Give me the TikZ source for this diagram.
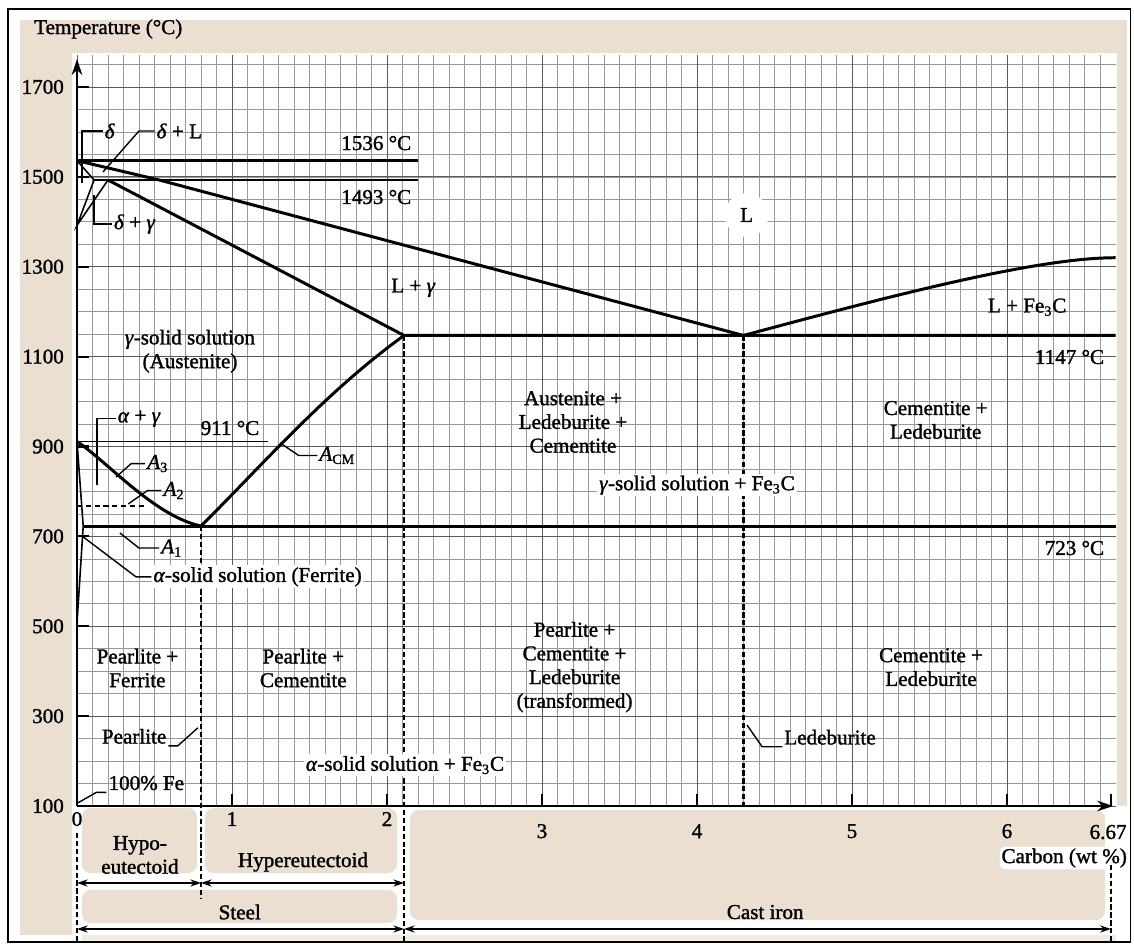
\documentclass[tikz,border=0pt]{standalone}
\usepackage{fontspec}
\setmainfont{Liberation Serif}[FakeBold=1.4]
\usepackage{tikz}
\usetikzlibrary{arrows.meta,calc,positioning}
\definecolor{sable}{RGB}{234,223,208}

\begin{document}
\begin{tikzpicture}[
		x=3.1cm, y=0.8988cm,
		font=\fontsize{12}{13.5}\selectfont,
		phase/.style={line width=1.7pt, line join=round},
		fine/.style={line width=0.9pt},
		leader/.style={line width=0.8pt},
		tirets/.style={line width=1.3pt, dash pattern=on 3pt off 1.5pt},
		cote/.style={line width=1.3pt, {Stealth[length=6pt,width=4pt]}-{Stealth[length=6pt,width=4pt]}},
		axe/.style={line width=1.4pt, -{Stealth[length=9pt,width=6pt]}},
		lbl/.style={inner sep=1pt, align=center},
		masque/.style={lbl, fill=white},
		boite/.style={fill=sable, rounded corners=5pt},
		]
		\useasboundingbox (-0.4968,-2.182) rectangle (6.8194,18.935);
		
		% Le fond
		\fill[white] (-0.4968,-2.182) rectangle (6.8194,18.935);
		\fill[sable] (-0.368,17.756) rectangle (6.774,18.49);
		\fill[sable] (-0.368,-1.87) rectangle (-0.032,18.49);
		\fill[sable] (6.71,1) rectangle (6.774,18.49);
		\fill[boite] (0.032,0.955) rectangle (0.774,-0.491);
		\fill[boite] (0.826,0.955) rectangle (2.065,-0.491);
		\fill[boite] (0.032,-0.869) rectangle (2.065,-1.603);
		\fill[boite] (2.148,0.911) rectangle (6.632,-1.537);
		\fill[sable!60] (0.032,-1.88) rectangle (6.70,-2.0);
		\draw[line width=1pt] (-0.445,-2.026) rectangle (6.797,18.735);
		
		% La grille
		\draw[black!40, line width=0.35pt] (0,1) grid[xstep=0.1, ystep=0.5] (6.70,17.71);
		\draw[black!65, line width=0.5pt, shift={(0,1)}] (0,0) grid[xstep=1, ystep=2] (6.70,16.71);
		
		% Les axes
		\coordinate (O) at (0,1);
		\coordinate (ytop) at (0,17.62);
		\coordinate (xend) at (6.684,1);
		\draw[axe] (O) -- (ytop);
		\draw[axe] (O) -- (xend);
		\draw[line width=1.1pt] (6.67,1) -- (6.67,1.27);
		\foreach \t/\lab in {1/100,3/300,5/500,7/700,9/900,11/1100,13/1300,15/1500,17/1700} {
			\draw[line width=1.2pt] (0,\t) -- (0.075,\t);
			\node[anchor=east] (ty\lab) at (-0.045,\t) {\lab};
		}
		\foreach \c in {1,...,6}
			\draw[line width=1.1pt] (\c,1) -- (\c,1.27);
		\foreach \c/\h in {0/0.71,1/0.71,2/0.71,3/0.44,4/0.44,5/0.44,6/0.44}
			\node (tx\c) at (\c,\h) {\c};
		\node[anchor=east, inner sep=1pt] (tx667) at (6.785,0.42) {6.67};
		\node[anchor=west] (ttemp) at (-0.316,18.29) {Temperature (°C)};
		\node[lbl, fill=white, rounded corners=3pt, anchor=east] (tcarb) at (6.787,-0.157) {Carbon (wt \%)};
		
		% Les points du diagramme
		\coordinate (Fe1536) at (0,15.36);
		\coordinate (d1493) at (0.11,14.93);
		\coordinate (g1493) at (0.2,14.93);
		\coordinate (p1493) at (0.53,14.93);
		\coordinate (Fe1392) at (0,13.92);
		\coordinate (l1536) at (2.2,15.36);
		\coordinate (l1493) at (2.2,14.93);
		\coordinate (E) at (2.11,11.47);
		\coordinate (C) at (4.3,11.47);
		\coordinate (r1147) at (6.70,11.47);
		\coordinate (Fe3C) at (6.70,13.2);
		\coordinate (Fe911) at (0,9.11);
		\coordinate (l911) at (1.23,9.11);
		\coordinate (S) at (0.8,7.23);
		\coordinate (P) at (0.04,7.23);
		\coordinate (r723) at (6.70,7.23);
		\coordinate (Fe500) at (0,5.07);
		\coordinate (Fe768) at (0,7.68);
		\coordinate (A2g) at (0.43,7.68);
		
		% Les lignes de phase
		\draw[phase] (Fe1536) -- (l1536);
		\draw[fine] (d1493) -- (l1493);
		\draw[phase] (Fe1536) -- (p1493) -- (C);
		\draw[fine] (Fe1536) -- (d1493) -- (Fe1392) -- (g1493);
		\draw[phase] (g1493) -- (E) -- (r1147);
		\draw[phase] (C) .. controls (5.3,12.4) and (6.2,13.2) .. (Fe3C);
		\draw[fine] (Fe911) -- (l911);
		\draw[phase] (Fe911) .. controls (0.2,8.65) and (0.5,7.45) .. (S);
		\draw[phase] (S) .. controls (1.2,8.6) and (1.6,10.2) .. (E);
		\draw[phase] (P) -- (r723);
		\draw[fine] (Fe911) -- (P) -- (Fe500);
		\draw[fine, dash pattern=on 3pt off 2pt] (Fe768) -- (A2g);
		
		% Les verticales en tirets
		\coordinate (b0h) at (0,0.4);
		\coordinate (b0) at (0,-2.0);
		\coordinate (bS) at (0.8,-1.05);
		\coordinate (bE) at (2.11,-2.0);
		\coordinate (bC) at (4.3,1);
		\coordinate (b667h) at (6.67,-0.31);
		\coordinate (b667) at (6.67,-2.0);
		\draw[tirets] (b0h) -- (b0);
		\draw[tirets] (S) -- (bS);
		\draw[tirets] (E) -- (bE);
		\draw[tirets] (C) -- (bC);
		\draw[tirets] (b667h) -- (b667);
		
		% Les cotes
		\draw[cote] (0,-0.713) -- (0.8,-0.713);
		\draw[cote] (0.8,-0.713) -- (2.11,-0.713);
		\draw[cote] (0,-1.737) -- (2.11,-1.737);
		\draw[cote] (2.11,-1.737) -- (6.67,-1.737);
		\node[lbl] (hypo) at (0.406,-0.09) {Hypo-\\eutectoid};
		\node[lbl] (hyper) at (1.458,-0.246) {Hypereutectoid};
		\node[lbl] (steel) at (1.05,-1.36) {Steel};
		\node[lbl] (cast) at (4.44,-1.36) {Cast iron};
		
		% Les etiquettes des phases
		\node[fill=white, circle, inner sep=5pt] (liq) at (4.32,14.15) {L};
		\node[lbl, anchor=east] (t1536) at (2.17,15.75) {1536 °C};
		\node[lbl, anchor=east] (t1493) at (2.17,14.55) {1493 °C};
		\node[lbl] (lg) at (2.17,12.53) {L + \textit{γ}};
		\node[lbl] (lfe) at (6.13,12.1) {L + Fe\textsubscript{3}C};
		\node[lbl, anchor=east] (t1147) at (6.64,10.99) {1147 °C};
		\node[lbl, anchor=east] (t723) at (6.64,6.74) {723 °C};
		\node[lbl] (aus) at (0.729,11.12) {\textit{γ}-solid solution\\(Austenite)};
		\node[lbl] (t911) at (0.987,9.41) {911 °C};
		\node[lbl] (alc) at (3.2,9.545) {Austenite +\\Ledeburite +\\Cementite};
		\node[lbl] (clh) at (5.54,9.59) {Cementite +\\Ledeburite};
		\node[masque] (gfe) at (4.0,8.14) {\textit{γ}-solid solution + Fe\textsubscript{3}C};
		\node[lbl] (pf) at (0.39,4.07) {Pearlite +\\Ferrite};
		\node[lbl] (pc) at (1.46,4.07) {Pearlite +\\Cementite};
		\node[lbl] (pcl) at (3.21,4.09) {Pearlite +\\Cementite +\\Ledeburite\\(transformed)};
		\node[lbl] (clb) at (5.51,4.09) {Cementite +\\Ledeburite};
		\node[masque] (afe) at (2.116,1.91) {\textit{α}-solid solution + Fe\textsubscript{3}C};
		
		% Les etiquettes avec renvoi
		\node[lbl, anchor=west] (delta) at (0.165,16.02) {\textit{δ}};
		\draw[leader] (delta.west) -| (0.032,14.86);
		\node[lbl, anchor=west] (deltaL) at (0.5,16.02) {\textit{δ} + L};
		\draw[leader] (deltaL.west) -- ++(-0.1,0) -- (0.168,15.11);
		\node[lbl, anchor=west] (deltaG) at (0.225,13.95) {\textit{δ} + \textit{γ}};
		\draw[leader] (deltaG.west) -| (0.11,14.6);
		\node[lbl, anchor=west] (alphaG) at (0.25,9.62) {\textit{α} + \textit{γ}};
		\draw[leader] (alphaG.west) -| (0.13,8.14);
		\node[lbl, anchor=west] (A3) at (0.44,8.62) {\textit{A}\textsubscript{3}};
		\draw[leader] (A3.west) -- ++(-0.09,0) -- (0.252,8.32);
		\node[lbl, anchor=west] (A2) at (0.545,8.02) {\textit{A}\textsubscript{2}};
		\draw[leader] (A2.west) -- ++(-0.09,0) -- (0.33,7.72);
		\node[lbl, anchor=west] (A1) at (0.53,6.74) {\textit{A}\textsubscript{1}};
		\draw[leader] (A1.west) -- ++(-0.13,0) -- (0.277,7.075);
		\node[masque, anchor=west] (ferr) at (0.48,6.1) {\textit{α}-solid solution (Ferrite)};
		\draw[leader] (ferr.west) -- ++(-0.1,0) -- (0.039,6.99);
		\node[lbl, anchor=west] (acm) at (1.55,8.8) {\textit{A}\textsubscript{CM}};
		\draw[leader] (acm.west) -- ++(-0.12,0) -- (1.31,9.08);
		\node[lbl, anchor=east] (prl) at (0.59,2.55) {Pearlite};
		\draw[leader] (prl.south east) -- ++(0.06,0) -- (0.78,2.74);
		\node[lbl, anchor=west] (fe) at (0.19,1.51) {100\% Fe};
		\draw[leader] (fe.south west) -- ++(-0.065,0) -- (0.006,1.07);
		\node[lbl, anchor=west] (led) at (4.55,2.53) {Ledeburite};
		\draw[leader] (led.south west) -- ++(-0.13,0) -- (4.323,2.80);
	\end{tikzpicture}
\end{document}
